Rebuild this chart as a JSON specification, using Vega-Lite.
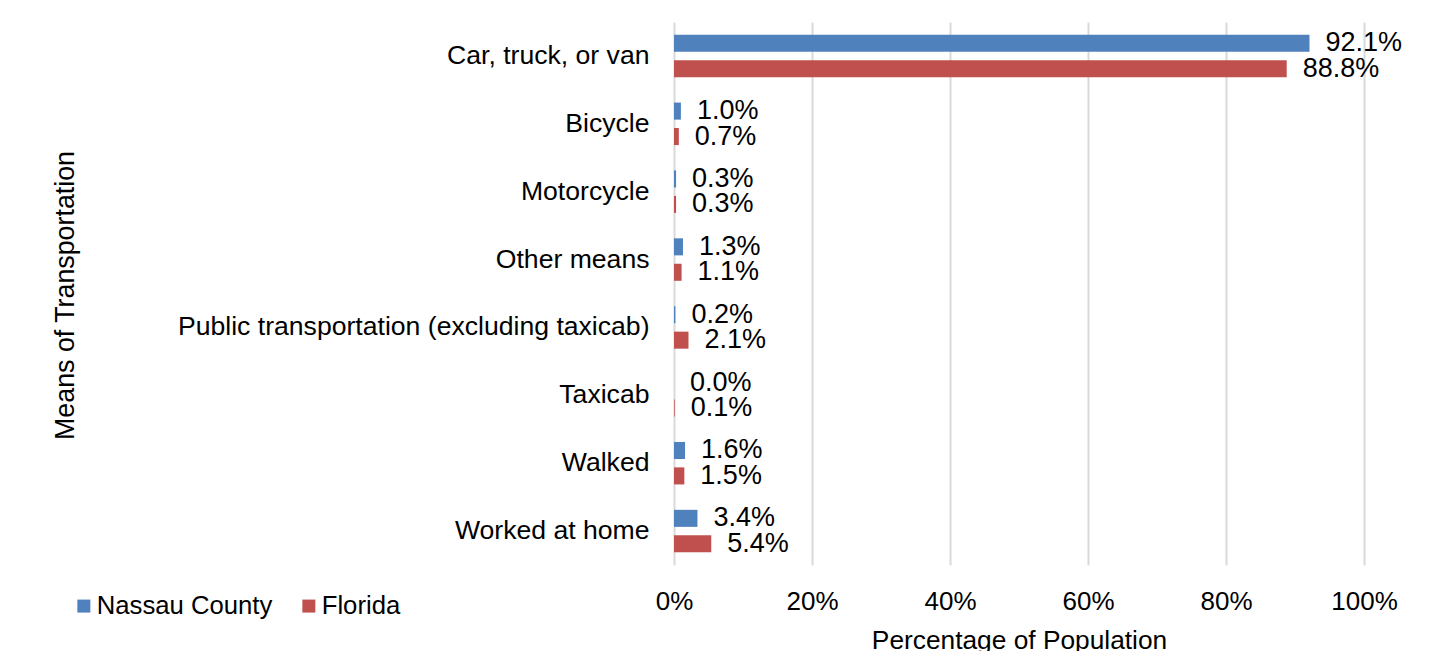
{
  "$schema": "https://vega.github.io/schema/vega-lite/v6.json",
  "autosize": "none",
  "width": 690,
  "height": 543,
  "padding": {"left": 674, "top": 22, "right": 84, "bottom": 86},
  "background": "white",
  "data": {
    "values": [
      {"means": "Car, truck, or van", "area": "Nassau County", "share": 0.921},
      {"means": "Car, truck, or van", "area": "Florida", "share": 0.888},
      {"means": "Bicycle", "area": "Nassau County", "share": 0.010},
      {"means": "Bicycle", "area": "Florida", "share": 0.007},
      {"means": "Motorcycle", "area": "Nassau County", "share": 0.003},
      {"means": "Motorcycle", "area": "Florida", "share": 0.003},
      {"means": "Other means", "area": "Nassau County", "share": 0.013},
      {"means": "Other means", "area": "Florida", "share": 0.011},
      {"means": "Public transportation (excluding taxicab)", "area": "Nassau County", "share": 0.002},
      {"means": "Public transportation (excluding taxicab)", "area": "Florida", "share": 0.021},
      {"means": "Taxicab", "area": "Nassau County", "share": 0.000},
      {"means": "Taxicab", "area": "Florida", "share": 0.001},
      {"means": "Walked", "area": "Nassau County", "share": 0.016},
      {"means": "Walked", "area": "Florida", "share": 0.015},
      {"means": "Worked at home", "area": "Nassau County", "share": 0.034},
      {"means": "Worked at home", "area": "Florida", "share": 0.054}
    ]
  },
  "encoding": {
    "y": {
      "field": "means",
      "type": "nominal",
      "sort": null,
      "scale": {"paddingInner": 0.374, "paddingOuter": 0.187},
      "axis": {
        "title": "Means of Transportation",
        "titleFont": "Liberation Sans",
        "titleFontSize": 26.8,
        "titleFontWeight": "normal",
        "titleColor": "#000000",
        "titleAngle": -90,
        "titleBaseline": "middle",
        "titleX": -609,
        "titleY": 273,
        "labelFont": "Liberation Sans",
        "labelFontSize": 26.6,
        "labelColor": "#000000",
        "labelPadding": 25,
        "labelLimit": 0,
        "domain": false,
        "ticks": false,
        "grid": false
      }
    },
    "yOffset": {
      "field": "area",
      "type": "nominal",
      "sort": ["Nassau County", "Florida"],
      "scale": {"paddingInner": 0.33}
    },
    "x": {
      "field": "share",
      "type": "quantitative",
      "scale": {"domain": [0, 1], "nice": false},
      "axis": {
        "title": "Percentage of Population",
        "titleFont": "Liberation Sans",
        "titleFontSize": 26.3,
        "titleFontWeight": "normal",
        "titleColor": "#000000",
        "titlePadding": 13,
        "values": [0, 0.2, 0.4, 0.6, 0.8, 1],
        "format": ".0%",
        "labelFont": "Liberation Sans",
        "labelFontSize": 26,
        "labelColor": "#000000",
        "labelPadding": 23,
        "labelFlush": false,
        "domain": false,
        "ticks": false,
        "grid": true,
        "gridColor": "#d9d9d9",
        "gridWidth": 2
      }
    }
  },
  "layer": [
    {
      "mark": {"type": "bar"},
      "encoding": {
        "color": {
          "field": "area",
          "type": "nominal",
          "sort": ["Nassau County", "Florida"],
          "scale": {"domain": ["Nassau County", "Florida"], "range": ["#4F81BD", "#C0504D"]},
          "legend": {
            "title": null,
            "orient": "none",
            "direction": "horizontal",
            "legendX": -603,
            "legendY": 571,
            "symbolType": "square",
            "symbolSize": 169,
            "symbolStrokeWidth": 0,
            "labelFont": "Liberation Sans",
            "labelFontSize": 25.7,
            "labelColor": "#000000",
            "labelOffset": 0,
            "labelLimit": 0,
            "columnPadding": 23
          }
        }
      }
    },
    {
      "mark": {"type": "text", "align": "left", "baseline": "middle", "dx": 16, "font": "Liberation Sans", "fontSize": 27, "color": "#000000"},
      "encoding": {
        "text": {"field": "share", "type": "quantitative", "format": ".1%"}
      }
    }
  ],
  "config": {"view": {"stroke": null}}
}
